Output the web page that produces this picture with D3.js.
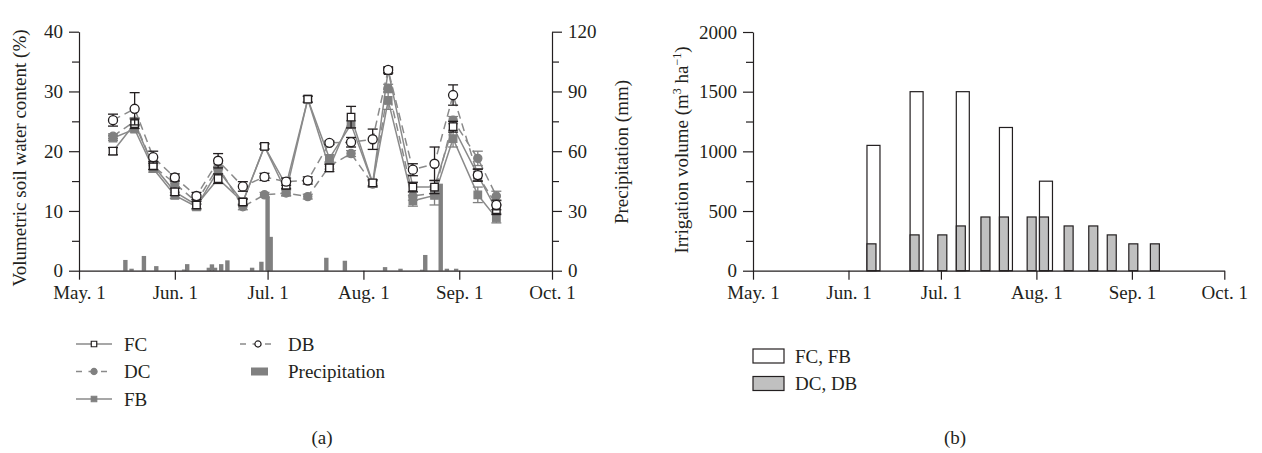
<!DOCTYPE html>
<html>
<head>
<meta charset="utf-8">
<script src="https://cdn.jsdelivr.net/npm/d3@7"></script>
<style>
body { margin: 0; background: #fff; }
svg text { font-family: "Liberation Serif", "DejaVu Serif", serif; fill: #231f20; }
.axis path, .axis line { stroke: #231f20; stroke-width: 1.2; }
.axis text { font-size: 19px; }
</style>
</head>
<body>
<svg id="chart" width="1262" height="453"></svg>
<script>
// ---- data ----
var monthTicks = ["2012-05-01", "2012-06-01", "2012-07-01", "2012-08-01", "2012-09-01", "2012-10-01"];
var monthLabels = ["May. 1", "Jun. 1", "Jul. 1", "Aug. 1", "Sep. 1", "Oct. 1"];

// soil water sampling dates (panel a)
var sampleDates = ["2012-05-12", "2012-05-19", "2012-05-25", "2012-06-01", "2012-06-08", "2012-06-15",
  "2012-06-23", "2012-06-30", "2012-07-07", "2012-07-14", "2012-07-21", "2012-07-28", "2012-08-04",
  "2012-08-09", "2012-08-17", "2012-08-24", "2012-08-30", "2012-09-07", "2012-09-13"];

var fcValues = [20.0, 24.6, 17.6, 13.2, 11.0, 15.4, 11.5, 20.8, 14.3, 28.7, 17.2, 25.7, 14.7, 33.5, 14.0, 14.0, 24.1, 16.0, 10.2];
var dcValues = [22.5, 25.0, 17.5, 14.6, 11.5, 17.4, 10.7, 12.7, 13.0, 12.4, 17.5, 19.6, 14.5, 30.5, 12.5, 13.0, 25.2, 18.8, 12.5];
var fbValues = [22.2, 23.7, 17.1, 12.6, 10.7, 16.8, 11.5, 20.8, 13.2, 28.7, 18.8, 24.5, 14.6, 28.5, 11.7, 12.6, 22.1, 12.7, 8.8];
var dbValues = [25.2, 27.1, 19.0, 15.6, 12.5, 18.4, 14.1, 15.7, 14.9, 15.1, 21.4, 21.5, 22.0, 33.6, 16.9, 17.9, 29.4, 16.0, 11.0];

var fcErr = [0.6, 0.8, 0.7, 0.6, 0.6, 0.8, 0.5, 0.4, 0.6, 0.5, 0.6, 1.8, 0.5, 0.4, 0.8, 1.1, 0.9, 1.0, 0.8];
var dcErr = [0.4, 0.6, 0.5, 0.5, 0.4, 0.5, 0.5, 0.4, 0.5, 0.4, 0.5, 0.5, 0.5, 0.7, 0.7, 0.6, 0.6, 1.2, 0.8];
var fbErr = [0.4, 0.5, 0.6, 0.5, 0.5, 0.6, 0.5, 0.5, 0.6, 0.5, 0.6, 0.6, 0.6, 1.5, 0.9, 1.6, 1.4, 1.3, 0.8];
var dbErr = [1.0, 2.7, 1.0, 0.6, 0.6, 1.2, 0.8, 0.6, 0.6, 0.6, 0.3, 0.8, 1.7, 0.5, 1.0, 2.8, 1.7, 1.0, 0.8];

// precipitation (mm)
var rainDates = ["2012-05-16", "2012-05-18", "2012-05-22", "2012-05-26", "2012-06-04", "2012-06-05",
  "2012-06-12", "2012-06-13", "2012-06-14", "2012-06-16", "2012-06-18", "2012-06-26", "2012-06-29",
  "2012-07-01", "2012-07-02", "2012-07-20", "2012-07-26", "2012-08-08", "2012-08-13", "2012-08-20",
  "2012-08-21", "2012-08-26", "2012-08-28", "2012-08-31"];
var rainValues = [5.4, 1.0, 7.4, 2.3, 0.6, 3.3, 1.5, 3.2, 1.5, 3.3, 5.2, 1.5, 4.5,
  37.4, 17.0, 6.5, 5.0, 1.8, 1.0, 0.5, 7.9, 43.7, 1.0, 1.0];

// irrigation (m3/ha), panel b
var irrDates = ["2012-06-07", "2012-06-21", "2012-06-30", "2012-07-06", "2012-07-14", "2012-07-20",
  "2012-07-29", "2012-08-02", "2012-08-10", "2012-08-18", "2012-08-24", "2012-08-31", "2012-09-07"];
var fullIrr = [1050, 1500, 0, 1500, 0, 1200, 0, 750, 0, 0, 0, 0, 0];
var deficitIrr = [225, 300, 300, 375, 450, 450, 450, 450, 375, 375, 300, 225, 225];

// ---- setup ----
var parseDate = d3.timeParse("%Y-%m-%d");
var svg = d3.select("#chart");
var lineGray = "#8a8a8a";
var ink = "#231f20";

var bottom = 270.7;
var top_ = 31.7;

// ================= panel (a) =================
var xA = d3.scaleTime()
  .domain([parseDate(monthTicks[0]), parseDate(monthTicks[5])])
  .range([79, 552]);
var ySwc = d3.scaleLinear().domain([0, 40]).range([bottom, top_]);
var yRain = d3.scaleLinear().domain([0, 120]).range([bottom, top_]);

var panelA = svg.append("g");

// precipitation bars
panelA.selectAll(".rain")
  .data(rainDates.map(function(d, i) { return { date: parseDate(d), v: rainValues[i] }; }))
  .enter().append("rect")
  .attr("class", "rain")
  .attr("x", function(d) { return xA(d.date) - 2.2; })
  .attr("width", 4.4)
  .attr("y", function(d) { return yRain(d.v); })
  .attr("height", function(d) { return bottom - yRain(d.v); })
  .attr("fill", "#808080");

var series = [
  { name: "FB", values: fbValues, err: fbErr, dash: null, marker: d3.symbolSquare, size: 56, fill: "#808080", stroke: "#808080", errColor: "#808080" },
  { name: "DC", values: dcValues, err: dcErr, dash: "8,5", marker: d3.symbolCircle, size: 52, fill: "#808080", stroke: "#808080", errColor: "#808080" },
  { name: "FC", values: fcValues, err: fcErr, dash: null, marker: d3.symbolSquare, size: 56, fill: "#fff", stroke: ink, errColor: ink },
  { name: "DB", values: dbValues, err: dbErr, dash: "8,5", marker: d3.symbolCircle, size: 64, fill: "#fff", stroke: ink, errColor: ink }
];

var line = d3.line()
  .x(function(d) { return xA(d.date); })
  .y(function(d) { return ySwc(d.v); });

series.forEach(function(s) {
  s.points = sampleDates.map(function(d, i) {
    return { date: parseDate(d), v: s.values[i], e: s.err[i] };
  });
  panelA.append("path")
    .datum(s.points)
    .attr("d", line)
    .attr("fill", "none")
    .attr("stroke", lineGray)
    .attr("stroke-width", 1.5)
    .attr("stroke-dasharray", s.dash);
});

series.forEach(function(s) {
  var g = panelA.append("g");
  var eb = g.selectAll("g").data(s.points).enter().append("g")
    .attr("stroke", s.errColor).attr("stroke-width", 1.3);
  eb.append("line")
    .attr("x1", function(d) { return xA(d.date); })
    .attr("x2", function(d) { return xA(d.date); })
    .attr("y1", function(d) { return ySwc(d.v - d.e); })
    .attr("y2", function(d) { return ySwc(d.v + d.e); });
  [-1, 1].forEach(function(sign) {
    eb.append("line")
      .attr("x1", function(d) { return xA(d.date) - 5; })
      .attr("x2", function(d) { return xA(d.date) + 5; })
      .attr("y1", function(d) { return ySwc(d.v + sign * d.e); })
      .attr("y2", function(d) { return ySwc(d.v + sign * d.e); });
  });
  g.selectAll(".mk").data(s.points).enter().append("path")
    .attr("class", "mk")
    .attr("d", d3.symbol(s.marker, s.size))
    .attr("transform", function(d) { return "translate(" + xA(d.date) + "," + ySwc(d.v) + ")"; })
    .attr("fill", s.fill)
    .attr("stroke", s.stroke)
    .attr("stroke-width", 1.3);
});

// axes
function styleMinor(g, minorLen, dir) {
  g.selectAll(".tick").filter(function(d, i) { return i % 2 === 1; })
    .select("line").attr(dir, minorLen);
}

var xAxisA = d3.axisBottom(xA)
  .tickValues(monthTicks.map(parseDate))
  .tickFormat(function(d, i) { return monthLabels[i]; })
  .tickSize(9).tickSizeOuter(0).tickPadding(6);
panelA.append("g").attr("class", "axis")
  .attr("transform", "translate(0," + bottom + ")")
  .call(xAxisA);

var yAxisA = d3.axisLeft(ySwc)
  .tickValues(d3.range(0, 41, 5))
  .tickFormat(function(d) { return d % 10 === 0 ? d : ""; })
  .tickSize(10).tickSizeOuter(0).tickPadding(6);
panelA.append("g").attr("class", "axis")
  .attr("transform", "translate(79,0)")
  .call(yAxisA)
  .call(styleMinor, -7, "x2");

var yAxisRain = d3.axisRight(yRain)
  .tickValues(d3.range(0, 121, 15))
  .tickFormat(function(d) { return d % 30 === 0 ? d : ""; })
  .tickSize(10).tickSizeOuter(0).tickPadding(6);
panelA.append("g").attr("class", "axis")
  .attr("transform", "translate(552,0)")
  .call(yAxisRain)
  .call(styleMinor, 7, "x2");

panelA.append("text")
  .attr("transform", "translate(26,158) rotate(-90)")
  .attr("text-anchor", "middle")
  .style("font-size", "19px")
  .text("Volumetric soil water content (%)");

panelA.append("text")
  .attr("transform", "translate(628,152) rotate(-90)")
  .attr("text-anchor", "middle")
  .style("font-size", "19px")
  .text("Precipitation (mm)");

// legend (a)
var legendA = [
  { name: "FC", dash: null, marker: d3.symbolSquare, size: 30, fill: "#fff", stroke: ink, x: 76, y: 344 },
  { name: "DC", dash: "7,6", marker: d3.symbolCircle, size: 30, fill: "#808080", stroke: "#808080", x: 76, y: 371.5 },
  { name: "FB", dash: null, marker: d3.symbolSquare, size: 30, fill: "#808080", stroke: "#808080", x: 76, y: 399 },
  { name: "DB", dash: "7,6", marker: d3.symbolCircle, size: 30, fill: "#fff", stroke: ink, x: 240, y: 344 }
];
legendA.forEach(function(l) {
  var g = panelA.append("g").attr("transform", "translate(" + l.x + "," + l.y + ")");
  g.append("line").attr("x1", 0).attr("x2", 36)
    .attr("stroke", lineGray).attr("stroke-width", 1.5)
    .attr("stroke-dasharray", l.dash ? "6,6.5" : null);
  g.append("path").attr("d", d3.symbol(l.marker, l.size))
    .attr("transform", "translate(18,0)")
    .attr("fill", l.fill).attr("stroke", l.stroke).attr("stroke-width", 1.2);
  g.append("text").attr("x", 48).attr("dy", "0.35em")
    .style("font-size", "19px").text(l.name);
});
panelA.append("rect").attr("x", 251).attr("y", 367.5).attr("width", 17).attr("height", 8).attr("fill", "#808080");
panelA.append("text").attr("x", 288).attr("y", 371.5).attr("dy", "0.35em")
  .style("font-size", "19px").text("Precipitation");

panelA.append("text").attr("x", 322).attr("y", 437).attr("dy", "0.35em")
  .attr("text-anchor", "middle").style("font-size", "19px").text("(a)");

// ================= panel (b) =================
var xB = d3.scaleTime()
  .domain([parseDate(monthTicks[0]), parseDate(monthTicks[5])])
  .range([753, 1224.3]);
var yIrr = d3.scaleLinear().domain([0, 2000]).range([bottom, 32]);

var panelB = svg.append("g");

var irrData = irrDates.map(function(d, i) {
  return { date: parseDate(d), full: fullIrr[i], deficit: deficitIrr[i] };
});

panelB.selectAll(".full")
  .data(irrData.filter(function(d) { return d.full > 0; }))
  .enter().append("rect")
  .attr("class", "full")
  .attr("x", function(d) { return xB(d.date); })
  .attr("width", 13)
  .attr("y", function(d) { return yIrr(d.full); })
  .attr("height", function(d) { return bottom - yIrr(d.full); })
  .attr("fill", "#fff").attr("stroke", ink).attr("stroke-width", 1.2);

panelB.selectAll(".def")
  .data(irrData.filter(function(d) { return d.deficit > 0; }))
  .enter().append("rect")
  .attr("class", "def")
  .attr("x", function(d) { return xB(d.date); })
  .attr("width", 9)
  .attr("y", function(d) { return yIrr(d.deficit); })
  .attr("height", function(d) { return bottom - yIrr(d.deficit); })
  .attr("fill", "#c0c0c0").attr("stroke", ink).attr("stroke-width", 1.2);

var xAxisB = d3.axisBottom(xB)
  .tickValues(monthTicks.map(parseDate))
  .tickFormat(function(d, i) { return monthLabels[i]; })
  .tickSize(9).tickSizeOuter(0).tickPadding(6);
panelB.append("g").attr("class", "axis")
  .attr("transform", "translate(0," + bottom + ")")
  .call(xAxisB);

var yAxisB = d3.axisLeft(yIrr)
  .tickValues(d3.range(0, 2001, 250))
  .tickFormat(function(d) { return d % 500 === 0 ? d : ""; })
  .tickSize(10).tickSizeOuter(0).tickPadding(6);
panelB.append("g").attr("class", "axis")
  .attr("transform", "translate(753,0)")
  .call(yAxisB)
  .call(styleMinor, -7, "x2");

var yTitleB = panelB.append("text")
  .attr("transform", "translate(688,150) rotate(-90)")
  .attr("text-anchor", "middle")
  .style("font-size", "19px");
yTitleB.append("tspan").text("Irrigation volume (m");
yTitleB.append("tspan").attr("baseline-shift", "super").style("font-size", "12px").text("3");
yTitleB.append("tspan").text(" ha");
yTitleB.append("tspan").attr("baseline-shift", "super").style("font-size", "12px").text("\u22121");
yTitleB.append("tspan").text(")");

// legend (b)
var legendB = [
  { name: "FC, FB", fill: "#fff", y: 356 },
  { name: "DC, DB", fill: "#c0c0c0", y: 383.5 }
];
legendB.forEach(function(l) {
  panelB.append("rect").attr("x", 753).attr("y", l.y - 7).attr("width", 31).attr("height", 14)
    .attr("fill", l.fill).attr("stroke", ink).attr("stroke-width", 1.2);
  panelB.append("text").attr("x", 795).attr("y", l.y).attr("dy", "0.35em")
    .style("font-size", "19px").text(l.name);
});

panelB.append("text").attr("x", 955).attr("y", 437).attr("dy", "0.35em")
  .attr("text-anchor", "middle").style("font-size", "19px").text("(b)");
</script>
</body>
</html>
